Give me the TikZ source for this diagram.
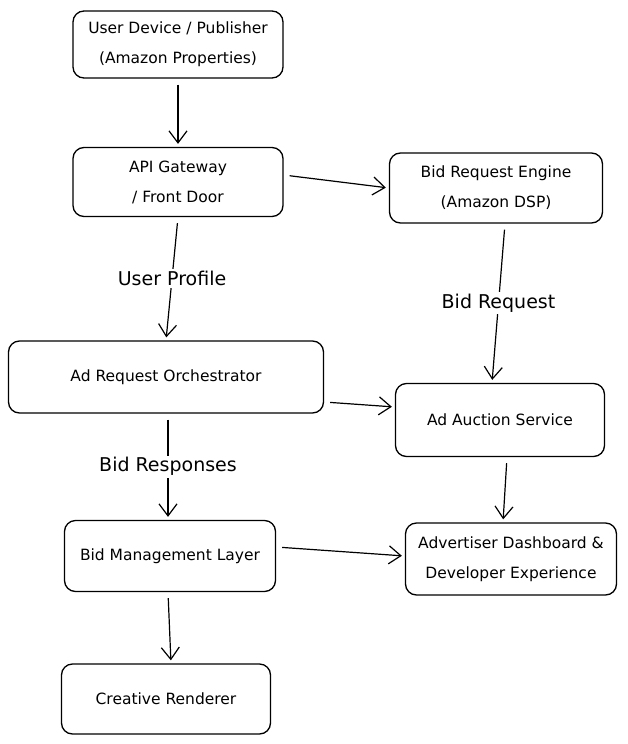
\documentclass[tikz,border=0pt]{standalone}
\usepackage{fontspec}
\setmainfont{DejaVu Sans}
\usepackage{tikz}
\usetikzlibrary{arrows.meta}

\begin{document}
\begin{tikzpicture}[x=1pt, y=-1pt, >={Straight Barb[length=12pt,width=18pt]},
    blockbox/.style={draw, line width=1.3pt, rounded corners=11pt, align=center,
      font=\fontsize{15.5}{30}\selectfont, inner sep=0pt},
    flow/.style={->, line width=1.2pt, shorten <=6pt, shorten >=3pt},
    flowlabel/.style={midway, fill=white, inner sep=2pt, font=\fontsize{19}{22}\selectfont}]
    \useasboundingbox (0, 0) rectangle (627, 744);
    % left column
    \node[blockbox, minimum width=210pt, minimum height=67pt] (ud) at (178, 44.5) {User Device / Publisher\\(Amazon Properties)};
    \node[blockbox, minimum width=210pt, minimum height=69pt] (api) at (178, 182) {API Gateway\\/ Front Door};
    \node[blockbox, minimum width=315pt, minimum height=72pt] (aro) at (166, 377) {Ad Request Orchestrator};
    \node[blockbox, minimum width=211pt, minimum height=71pt] (bml) at (170, 556) {Bid Management Layer};
    \node[blockbox, minimum width=209pt, minimum height=70pt] (cr) at (166, 699) {Creative Renderer};
    % right column
    \node[blockbox, minimum width=213pt, minimum height=70pt] (bre) at (496, 188) {Bid Request Engine\\(Amazon DSP)};
    \node[blockbox, minimum width=209pt, minimum height=73pt] (aas) at (500, 420) {Ad Auction Service};
    \node[blockbox, minimum width=211pt, minimum height=72pt] (ad) at (511, 559) {Advertiser Dashboard \&\\Developer Experience};
    \draw[flow] (ud.south) -- (api.north);
    \draw[flow] ([yshift=7pt]api.east) -- (bre.west);
    \draw[flow] (api.south) -- (aro.north) node[flowlabel] {User Profile};
    \draw[flow] ([xshift=9pt]bre.south) -- ([xshift=-8pt]aas.north) node[flowlabel] {Bid Request};
    \draw[flow] ([yshift=-25pt]aro.east) -- ([yshift=13pt]aas.west);
    \draw[flow] ([xshift=2pt]aro.south) -- ([xshift=-2pt]bml.north) node[flowlabel] {Bid Responses};
    \draw[flow] ([xshift=7pt]aas.south) -- ([xshift=-8pt]ad.north);
    \draw[flow] ([yshift=9pt]bml.east) -- ([yshift=3pt]ad.west);
    %\draw[flow] (bml.south) -- (cr.north);
    \draw[flow] ([xshift=-2pt]bml.south) -- ([xshift=5pt]cr.north);
\end{tikzpicture}
\end{document}
